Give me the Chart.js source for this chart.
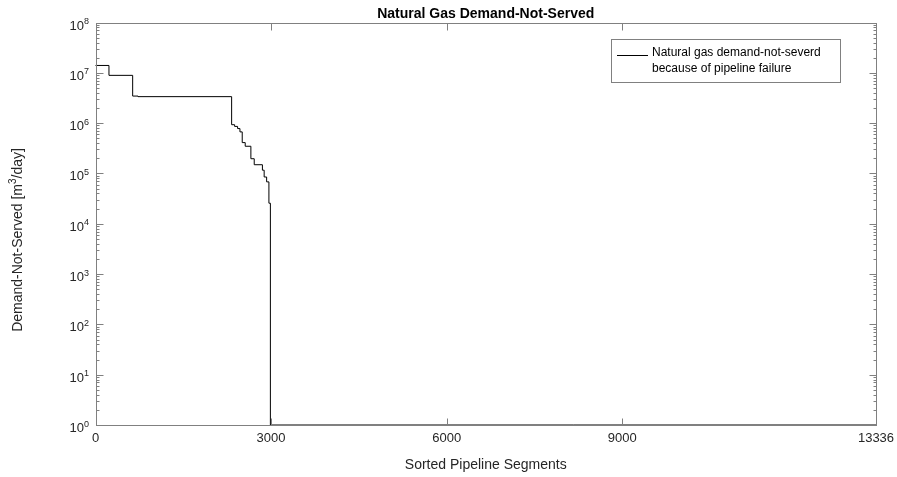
<!DOCTYPE html>
<html>
<head>
<meta charset="utf-8">
<script src="https://cdn.jsdelivr.net/npm/chart.js@4/dist/chart.umd.min.js"></script>
<style>
  html, body { margin: 0; padding: 0; background: #fff; }
  #wrap { width: 897px; height: 477px; }
</style>
</head>
<body>
<div id="wrap"><canvas id="myChart" width="897" height="477"></canvas></div>
<script>
// sorted pipeline segment index where each level of demand-not-served begins
var segStart = [0, 230, 635, 726, 2326, 2377, 2428, 2468, 2507, 2558, 2655, 2712, 2852, 2882, 2924, 2963, 2988, 13336]
// demand-not-served [m3/day]
var demand = [1.4e7, 8.9e6, 3.45e6, 3.36e6, 9.3e5, 8.6e5, 7.8e5, 6.7e5, 4.1e5, 3.47e5, 1.96e5, 1.49e5, 1.16e5, 8.5e4, 6.8e4, 2.56e4, 1, 1]
var xTicks = [0, 3000, 6000, 9000, 13336]
var yTicks = [1, 10, 100, 1000, 1e4, 1e5, 1e6, 1e7, 1e8]
var chartTitle = 'Natural Gas Demand-Not-Served'
var legendLines = ['Natural gas demand-not-severd', 'because of pipeline failure']

var FONT = "'Liberation Sans', Arial, Helvetica, sans-serif"
var TXT = '#262626'

var points = segStart.map((s, i) => {
    return { x: s, y: demand[i] }
})

// text with a raised exponent, drawn left to right from x
function supText(ctx, parts, x, y, size) {
    parts.forEach((p) => {
        if (p.sup) {
            ctx.font = Math.round(size * 0.7) + 'px ' + FONT
            ctx.fillText(p.t, x, y - size * 0.42)
        } else {
            ctx.font = size + 'px ' + FONT
            ctx.fillText(p.t, x, y)
        }
        x += ctx.measureText(p.t).width
    })
    return x
}
function supWidth(ctx, parts, size) {
    var w = 0
    parts.forEach((p) => {
        ctx.font = (p.sup ? Math.round(size * 0.7) : size) + 'px ' + FONT
        w += ctx.measureText(p.t).width
    })
    return w
}

// box, inside ticks (matlab style), labels and the legend
var boxPlugin = {
    id: 'boxPlugin',
    afterDatasetsDraw: function (chart) {
        var ctx = chart.ctx
        var a = chart.chartArea
        var xs = chart.scales.x
        var ys = chart.scales.y
        var L = Math.round(a.left) + 0.5, R = Math.round(a.right) + 0.5
        var T = Math.round(a.top) + 0.5, B = Math.round(a.bottom) + 0.5
        ctx.save()
        ctx.strokeStyle = '#808080'
        ctx.lineWidth = 1
        ctx.strokeRect(L, T, R - L, B - T)
        ctx.beginPath()
        // y major + minor ticks, both sides
        for (var n = 0; n < 8; n++) {
            for (var k = 1; k < 10; k++) {
                var y = Math.round(ys.getPixelForValue(k * Math.pow(10, n))) + 0.5
                var len = k == 1 ? 7 : 3
                ctx.moveTo(L, y); ctx.lineTo(L + len, y)
                ctx.moveTo(R, y); ctx.lineTo(R - len, y)
            }
        }
        // x ticks, top and bottom
        xTicks.forEach((v) => {
            var x = Math.round(xs.getPixelForValue(v)) + 0.5
            ctx.moveTo(x, B); ctx.lineTo(x, B - 7)
            ctx.moveTo(x, T); ctx.lineTo(x, T + 7)
        })
        ctx.stroke()

        // y tick labels 10^n
        ctx.fillStyle = TXT
        ctx.textBaseline = 'alphabetic'
        ctx.textAlign = 'left'
        yTicks.forEach((v) => {
            var e = Math.round(Math.log10(v))
            var parts = [{ t: '10' }, { t: String(e), sup: true }]
            var w = supWidth(ctx, parts, 13)
            var y = ys.getPixelForValue(v)
            supText(ctx, parts, 89 - w, y + 7, 13)
        })

        // y axis title
        ctx.save()
        var yParts = [{ t: 'Demand-Not-Served [m' }, { t: '3', sup: true }, { t: '/day]' }]
        var yw = supWidth(ctx, yParts, 14)
        ctx.translate(22, 240)
        ctx.rotate(-Math.PI / 2)
        supText(ctx, yParts, -yw / 2, 0, 14)
        ctx.restore()

        // chart title, centred on the axes
        ctx.fillStyle = '#000'
        ctx.font = 'bold 14px ' + FONT
        ctx.textAlign = 'center'
        ctx.fillText(chartTitle, (a.left + a.right) / 2, 18)
        ctx.textAlign = 'left'

        // legend
        var lx = 611.5, ly = 39.5, lw = 229, lh = 43
        ctx.fillStyle = '#fff'
        ctx.fillRect(lx, ly, lw, lh)
        ctx.strokeStyle = '#808080'
        ctx.strokeRect(lx, ly, lw, lh)
        ctx.beginPath()
        ctx.strokeStyle = '#000'
        ctx.moveTo(617, 55.5); ctx.lineTo(648, 55.5)
        ctx.stroke()
        ctx.fillStyle = '#000'
        ctx.font = '12px ' + FONT
        ctx.fillText(legendLines[0], 652, 56)
        ctx.fillText(legendLines[1], 652, 72)
        ctx.restore()
    }
}

var data = {
    datasets: [{
        label: 'Natural gas demand-not-severd because of pipeline failure',
        data: points,
        stepped: true,
        borderColor: '#000',
        borderWidth: 1,
        pointRadius: 0,
        fill: false,
        clip: 2
    }]
}

var options = {
    responsive: false,
    animation: false,
    layout: {
        padding: { left: 0, right: 21, top: 22.5, bottom: 0 }
    },
    scales: {
        x: {
            type: 'linear',
            min: 0,
            max: 13336,
            afterBuildTicks: function (scale) {
                scale.ticks = xTicks.map((v) => ({ value: v }))
            },
            afterFit: function (scale) {
                scale.height = 52
                scale.paddingLeft = 0
                scale.paddingRight = 0
            },
            grid: { display: false, drawTicks: false },
            border: { display: false },
            ticks: {
                padding: 6,
                maxRotation: 0,
                autoSkip: false,
                color: TXT,
                font: { family: FONT, size: 13 },
                callback: function (value) {
                    return String(value)
                }
            },
            title: {
                display: true,
                text: 'Sorted Pipeline Segments',
                color: TXT,
                font: { family: FONT, size: 14 },
                padding: { top: 0, bottom: 3 }
            }
        },
        y: {
            type: 'logarithmic',
            min: 1,
            max: 1e8,
            afterBuildTicks: function (scale) {
                scale.ticks = yTicks.map((v) => ({ value: v }))
            },
            afterFit: function (scale) {
                scale.width = 95.5
            },
            grid: { display: false, drawTicks: false },
            border: { display: false },
            ticks: { display: false }
        }
    },
    plugins: {
        legend: { display: false },
        tooltip: { enabled: false },
        title: { display: false }
    }
}

var ctx = document.getElementById('myChart').getContext('2d')
var myChart = new Chart(ctx, {
    type: 'line',
    data: data,
    options: options,
    plugins: [boxPlugin]
})
</script>
</body>
</html>
